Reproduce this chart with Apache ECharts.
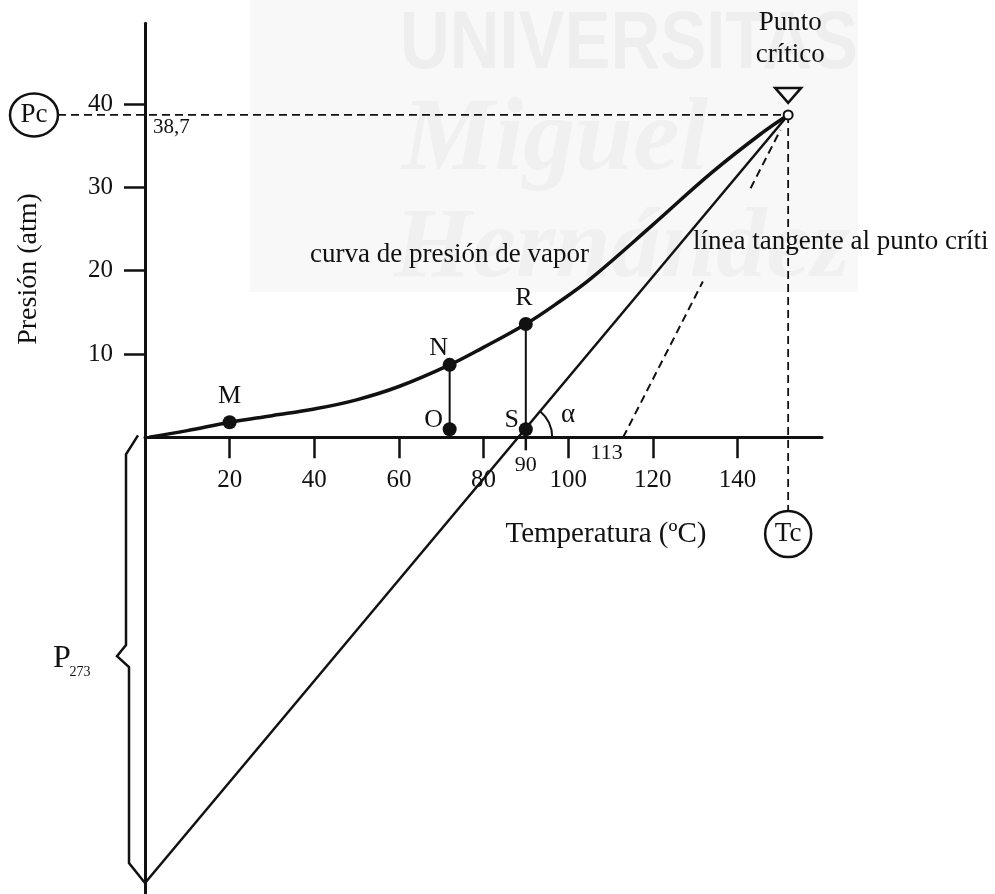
<!DOCTYPE html>
<html>
<head>
<meta charset="utf-8">
<title>Curva de presión de vapor</title>
<script src="https://cdn.jsdelivr.net/npm/echarts@6/dist/echarts.min.js"></script>
<style>
  html, body { margin: 0; padding: 0; background: #fff; }
  #chart { width: 995px; height: 894px; }
</style>
</head>
<body>
<div id="chart"></div>
<script>
// Vapour-pressure curve: temperature (ºC) and pressure (atm)
const curveT = [1, 10, 20, 30, 40, 50, 60, 72, 80, 90, 98, 105.5, 120, 134, 146, 152];
const curveP = [0, 0.8, 1.8, 2.6, 3.4, 4.5, 6.1, 8.7, 10.8, 13.6, 16.3, 19.1, 25.5, 31.8, 36.6, 38.7];

// Named points on the curve, and their feet on the temperature axis
const pointNames = ['M', 'N', 'R'];
const pointT = [20, 72, 90];
const pointP = [1.8, 8.7, 13.6];
const footNames = ['O', 'S'];
const footT = [72, 90];

// Critical point
const Tc = 152;
const Pc = 38.7;

// Straight line through the critical point; its intercept on the pressure axis
const P273 = -53.5;

// Tangent at the critical point: temperature where it meets the axis,
// and the pressure ranges of its visible (dashed) pieces
const tangentT0 = 113;
const tangentPieces = [[0, 18.7], [29.9, 36.9]];

// Axis ticks and the extra values written under the temperature axis
const xTicks = [20, 40, 60, 80, 100, 120, 140];
const yTicks = [10, 20, 30, 40];
const xMarks = [90];
const xNotes = [113];

const SERIF = '"Liberation Serif", "Times New Roman", serif';
const INK = '#111';

const chart = echarts.init(document.getElementById('chart'));

const pairs = (ts, ps) => ts.map((t, i) => [t, ps[i]]);
const tangentAt = p => [tangentT0 + (Tc - tangentT0) * p / Pc, p];

const labelOffset = { M: [0, -26], N: [-11, -17], R: [-2, -26], O: [-16, -9], S: [-14, -9] };
const labelFont = { fontFamily: SERIF, color: INK };

const GRID = { left: 145, right: 173, top: 23.3, bottom: 0.2 };

const option = {
  animation: false,
  backgroundColor: '#fff',
  grid: Object.assign({ containLabel: false, outerBoundsMode: 'none' }, GRID),
  xAxis: {
    type: 'value', min: 0, max: 160, position: 'bottom', offset: 0,
    splitLine: { show: false },
    axisLine: { onZero: false, lineStyle: { color: INK, width: 3 } },
    axisTick: { customValues: xTicks, length: 21, lineStyle: { color: INK, width: 2.5 } },
    axisLabel: Object.assign({
      customValues: xTicks.concat(xMarks, xNotes), margin: 4,
      formatter: v => xMarks.includes(v) ? '{m|' + v + '}' : xNotes.includes(v) ? '{n|' + v + '}' : '{t|' + v + '}',
      rich: {
        t: { fontSize: 25, fontFamily: SERIF, color: INK, padding: [27, 0, 0, 0] },
        m: { fontSize: 22, fontFamily: SERIF, color: INK, padding: [13, 0, 0, 0] },
        n: { fontSize: 22, fontFamily: SERIF, color: INK, padding: [1, 33, 0, 0] }
      }
    }, labelFont)
  },
  yAxis: {
    type: 'value', min: -54.8, max: 49.7,
    splitLine: { show: false },
    axisLine: { onZero: false, lineStyle: { color: INK, width: 3 } },
    axisTick: { customValues: yTicks, length: 21, lineStyle: { color: INK, width: 2.5 } },
    axisLabel: Object.assign({ customValues: yTicks, margin: 32, fontSize: 25 }, labelFont)
  },
  series: [
    {
      name: 'curva de presión de vapor', type: 'line',
      data: pairs(curveT, curveP), smooth: 0.4,
      showSymbol: false, lineStyle: { color: INK, width: 3.5 }, z: 4
    },
    {
      name: 'recta', type: 'line', clip: false,
      data: [[0, P273], [Tc, Pc]], showSymbol: false,
      lineStyle: { color: INK, width: 2.5 }, z: 3
    },
    ...tangentPieces.map(([a, b]) => ({
      name: 'tangente', type: 'line',
      data: [tangentAt(a), tangentAt(b)], showSymbol: false,
      lineStyle: { color: INK, width: 2, type: [8, 5] }, z: 3
    })),
    ...footT.map((t, i) => ({
      name: 'vertical ' + footNames[i], type: 'line',
      data: [[t, pointP[pointT.indexOf(t)]], [t, 0]], showSymbol: false,
      lineStyle: { color: INK, width: 2 }, z: 3
    })),
    {
      name: 'puntos', type: 'scatter', symbolSize: 14, z: 5,
      itemStyle: { color: INK, opacity: 1 },
      data: pointNames.map((n, i) => ({
        name: n, value: [pointT[i], pointP[i]],
        label: { offset: labelOffset[n] }
      })),
      label: Object.assign({ show: true, position: 'inside', formatter: '{b}', fontSize: 26 }, labelFont)
    },
    {
      name: 'pies', type: 'scatter', symbolSize: 14, symbolOffset: [0, -8], z: 5,
      itemStyle: { color: INK, opacity: 1 },
      data: footNames.map((n, i) => ({
        name: n, value: [footT[i], 0],
        label: { offset: labelOffset[n] }
      })),
      label: Object.assign({ show: true, position: 'inside', formatter: '{b}', fontSize: 26 }, labelFont)
    }
  ]
};

chart.setOption(option);

// Annotations placed from the axes' own scale
const px = (t, p) => chart.convertToPixel({ gridIndex: 0 }, [t, p]);
const [xc, yc] = px(Tc, Pc);
const [x0, y0] = px(0, 0);
const yBot = px(0, P273)[1];
const t0 = -P273 / (Pc - P273) * Tc;        // where the straight line crosses the axis
const [xs, ys] = px(t0, 0);
const theta = Math.atan2(yc - ys, xc - xs);
const mid = (y0 + yBot) / 2;

// lift the temperature axis from the grid's bottom edge up to P = 0
const gridBottom = 894 - GRID.bottom;
chart.setOption({ xAxis: { offset: y0 - gridBottom } });

const txt = (text, x, y, size, extra) => ({
  type: 'text', z: 100,
  style: Object.assign({ text, x, y, font: size + 'px ' + SERIF, fill: INK, align: 'center', verticalAlign: 'middle' }, extra || {})
});
const dash = { stroke: INK, lineWidth: 1.8, lineDash: [8, 5] };

const graphic = [
  // faint watermark behind the plot
  { type: 'rect', z: -10, silent: true, shape: { x: 250, y: 0, width: 608, height: 292 }, style: { fill: '#f8f8f8' } },
  { type: 'text', z: -9, silent: true, x: 400, y: 4, scaleX: 0.84,
    style: { text: 'UNIVERSITAS', font: 'bold 82px "Liberation Sans", sans-serif', fill: '#eeeeee', verticalAlign: 'top' } },
  { type: 'text', z: -9, silent: true,
    style: { text: 'Miguel', x: 402, y: 194, font: 'italic bold 104px ' + SERIF, fill: '#f0f0f0', verticalAlign: 'bottom' } },
  { type: 'text', z: -9, silent: true,
    style: { text: 'Hernández', x: 394, y: 300, font: 'italic bold 100px ' + SERIF, fill: '#f0f0f0', verticalAlign: 'bottom' } },

  // short mark under the axis at the temperatures written below it
  ...xMarks.map(t => {
    const [x, y] = px(t, 0);
    return { type: 'line', z: 60, shape: { x1: x, y1: y, x2: x, y2: y + 13 }, style: { stroke: INK, lineWidth: 2.5 } };
  }),

  // reference lines to Pc and Tc
  { type: 'line', z: 50, shape: { x1: 58, y1: yc, x2: xc, y2: yc }, style: dash },
  { type: 'line', z: 50, shape: { x1: xc, y1: yc, x2: xc, y2: 511 }, style: dash },
  { type: 'ellipse', z: 100, shape: { cx: 34, cy: yc, rx: 24, ry: 21.5 }, style: { stroke: INK, lineWidth: 2.5, fill: '#fff' } },
  txt('Pc', 34, yc, 27),
  { type: 'circle', z: 100, shape: { cx: xc, cy: 534, r: 23 }, style: { stroke: INK, lineWidth: 2.5, fill: '#fff' } },
  txt('Tc', xc, 534, 27),
  txt('38,7', x0 + 8, yc + 13, 21, { align: 'left' }),

  // critical point marker
  { type: 'circle', z: 110, shape: { cx: xc, cy: yc, r: 4.5 }, style: { stroke: INK, lineWidth: 2, fill: '#fff' } },
  { type: 'polygon', z: 110, shape: { points: [[xc - 13, yc - 27], [xc + 13, yc - 27], [xc, yc - 12]] }, style: { stroke: INK, lineWidth: 2.5, fill: 'none' } },
  txt('Punto\ncrítico', xc + 2, 39, 27, { lineHeight: 32 }),

  // curve and tangent captions
  txt('curva de presión de vapor', 310, 255, 27, { align: 'left' }),
  txt('línea tangente al punto críti', 693, 242, 27, { align: 'left' }),

  // axis titles
  txt('Temperatura (ºC)', 606, 534, 29),
  { type: 'text', z: 100, x: 29, y: 269, rotation: Math.PI / 2,
    style: { text: 'Presión (atm)', x: 0, y: 0, font: '28px ' + SERIF, fill: INK, align: 'center', verticalAlign: 'middle' } },

  // angle α between the straight line and the temperature axis
  { type: 'arc', z: 100, shape: { cx: xs, cy: ys, r: 34, startAngle: theta, endAngle: 0, clockwise: true }, style: { stroke: INK, lineWidth: 2, fill: 'none' } },
  txt('α', xs + 50, ys - 22, 27),

  // brace marking P273 along the pressure axis
  { type: 'polyline', z: 100, shape: { points: [
      [x0 - 7, y0 - 2], [x0 - 19, y0 + 17], [x0 - 19, mid - 15], [x0 - 28, mid - 4],
      [x0 - 16, mid + 7], [x0 - 16, yBot - 20], [x0, yBot]] },
    style: { stroke: INK, lineWidth: 2.5, fill: 'none' } },
  txt('P', 62, mid - 2, 32),
  txt('273', 80, mid + 12, 14)
];

chart.setOption({ graphic });
</script>
</body>
</html>
